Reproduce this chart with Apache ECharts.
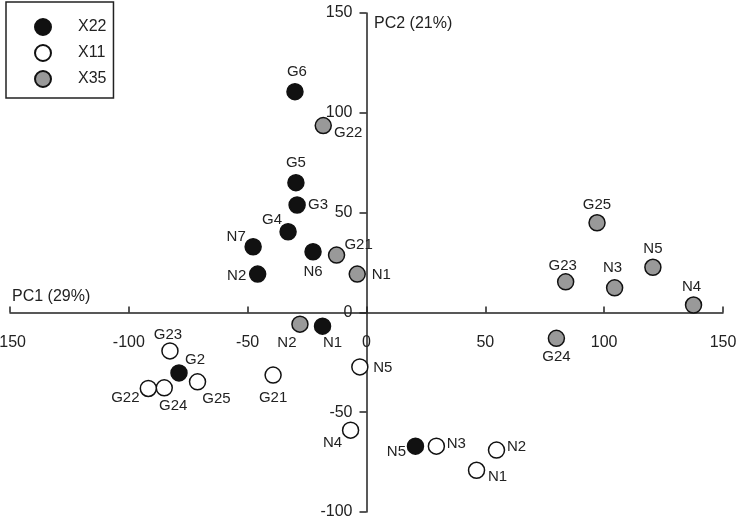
<!DOCTYPE html>
<html>
<head>
<meta charset="utf-8">
<script src="https://cdn.jsdelivr.net/npm/echarts@6/dist/echarts.min.js"></script>
<style>
  html, body { margin: 0; padding: 0; background: #fff; }
  #main { width: 740px; height: 519px; }
</style>
</head>
<body>
<div id="main"></div>
<script>
// X22 (black)
const x22Names = ['G6', 'G5', 'G3', 'G4', 'N7', 'N2', 'N6', 'N1', 'G2', 'N5']
const x22X = [-30.1, -29.7, -29.2, -33.0, -47.7, -45.8, -22.5, -18.5, -78.9, 20.6]
const x22Y = [110.6, 65.0, 53.8, 40.4, 32.9, 19.2, 30.4, -6.9, -30.3, -67.0]

// X11 (white)
const x11Names = ['G23', 'G25', 'G24', 'G22', 'G21', 'N5', 'N4', 'N3', 'N2', 'N1']
const x11X = [-82.7, -71.1, -85.1, -91.8, -39.3, -2.8, -6.7, 29.4, 54.7, 46.3]
const x11Y = [-19.3, -34.8, -37.8, -38.1, -31.4, -27.3, -59.0, -67.0, -69.0, -79.1]

// X35 (grey)
const x35Names = ['G22', 'G21', 'N1', 'N2', 'G25', 'G23', 'N3', 'N5', 'N4', 'G24']
const x35X = [-18.2, -12.6, -3.9, -28.0, 97.0, 83.8, 104.4, 120.5, 137.6, 79.9]
const x35Y = [93.6, 28.7, 19.2, -5.9, 44.9, 15.3, 12.3, 22.6, 3.7, -13.0]

// 标签相对点中心的偏移 (px)
const labelOffset = {
  X22: { G6: [2, -20], G5: [0, -20], G3: [21, 0], G4: [-16, -12], N7: [-17, -10],
         N2: [-21, 2], N6: [0, 20], N1: [10, 17], G2: [16, -13], N5: [-19, 6] },
  X11: { G23: [-2, -16], G25: [19, 17], G24: [9, 18], G22: [-23, 9], G21: [0, 23],
         N5: [23, 1], N4: [-18, 13], N3: [20, -2], N2: [20, -3], N1: [21, 7] },
  X35: { G22: [25, 7], G21: [22, -10], N1: [24, 1], N2: [-13, 19], G25: [0, -18],
         G23: [-3, -16], N3: [-2, -20], N5: [0, -18], N4: [-2, -18], G24: [0, 19] }
}

const font = 'Arial, "Liberation Sans", sans-serif'

// 画布 / 网格尺寸
const W = 740, H = 519
const gridL = 10, gridR = 17, gridT = 13, gridB = 7
const xMin = -150, xMax = 150, yMin = -100, yMax = 150
// 轴线移到 0 处
const zeroX = (0 - xMin) / (xMax - xMin) * (W - gridL - gridR)
const zeroY = (0 - yMin) / (yMax - yMin) * (H - gridT - gridB)

function makeSeries(name, names, xs, ys, color) {
  return {
    name: name,
    type: 'scatter',
    symbol: 'circle',
    symbolSize: 16,
    itemStyle: { color: color, borderColor: '#111', borderWidth: 1.5, opacity: 1 },
    label: {
      show: true,
      position: 'inside',
      formatter: '{b}',
      color: '#222',
      fontSize: 15,
      fontFamily: font,
      align: 'center',
      verticalAlign: 'middle'
    },
    emphasis: { disabled: true },
    data: names.map((n, i) => ({
      name: n,
      value: [xs[i], ys[i]],
      label: { offset: labelOffset[name][n] }
    }))
  }
}

const chart = echarts.init(document.getElementById('main'))
let option = {
  animation: false,
  backgroundColor: '#fff',
  grid: { left: gridL, right: gridR, top: gridT, bottom: gridB, containLabel: false, outerBoundsMode: 'none' },
  legend: {
    orient: 'vertical',
    left: 6,
    top: 2,
    padding: [16, 7, 10, 28],
    itemGap: 8,
    itemWidth: 16,
    itemHeight: 16,
    borderColor: '#222',
    borderWidth: 1.5,
    data: ['X22', 'X11', 'X35'],
    textStyle: { fontSize: 16, fontFamily: font, color: '#222', padding: [0, 0, 0, 22] }
  },
  graphic: [
    { type: 'text', left: 12, top: 289, style: { text: 'PC1 (29%)', font: '16px ' + font, fill: '#222' } },
    { type: 'text', left: 374, top: 16, style: { text: 'PC2 (21%)', font: '16px ' + font, fill: '#222' } }
  ],
  xAxis: {
    type: 'value',
    min: xMin,
    max: xMax,
    interval: 50,
    position: 'bottom',
    offset: -zeroY,
    splitLine: { show: false },
    axisLine: { onZero: false, lineStyle: { color: '#222', width: 1.5 } },
    axisTick: { inside: true, length: 6, lineStyle: { color: '#222', width: 1.5 } },
    axisLabel: { margin: 22, fontSize: 16, fontFamily: font, color: '#222', showMinLabel: true, showMaxLabel: true }
  },
  yAxis: {
    type: 'value',
    min: yMin,
    max: yMax,
    interval: 50,
    position: 'left',
    offset: -zeroX,
    splitLine: { show: false },
    axisLine: { onZero: false, lineStyle: { color: '#222', width: 1.5 } },
    axisTick: { length: 7, lineStyle: { color: '#222', width: 1.5 } },
    axisLabel: { margin: 14, fontSize: 16, fontFamily: font, color: '#222', showMinLabel: true, showMaxLabel: true }
  },
  series: [
    makeSeries('X22', x22Names, x22X, x22Y, '#111'),
    makeSeries('X11', x11Names, x11X, x11Y, '#fff'),
    makeSeries('X35', x35Names, x35X, x35Y, '#999')
  ]
}
chart.setOption(option)
</script>
</body>
</html>
